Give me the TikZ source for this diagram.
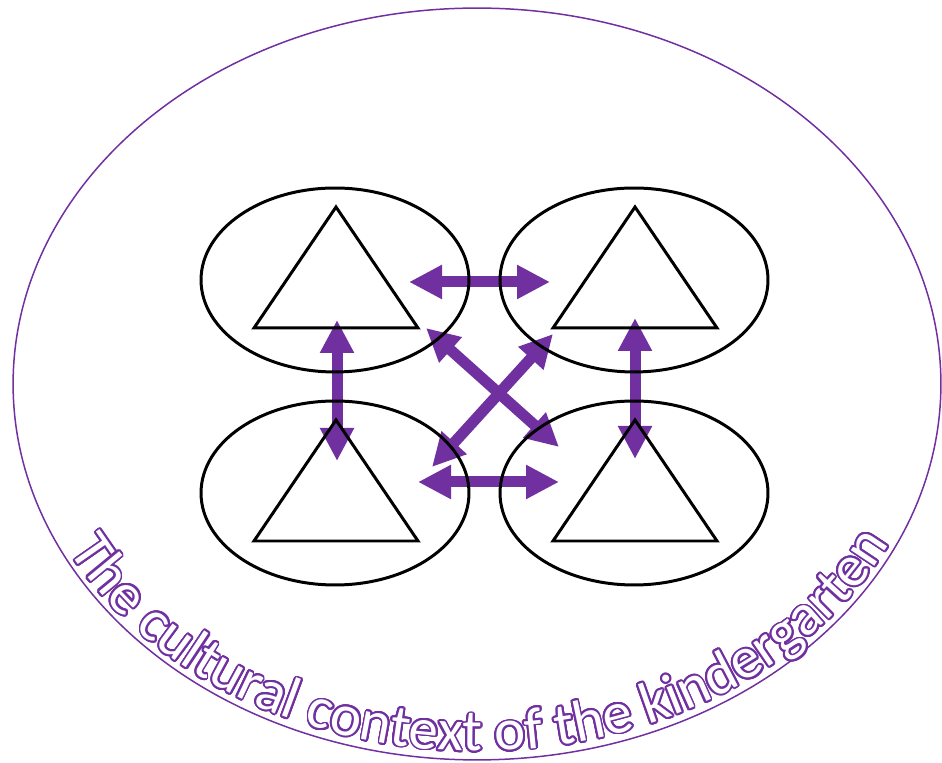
\documentclass[tikz,border=0pt]{standalone}
\usepackage{fontspec}
\newfontfamily\calibri{Carlito}
\usepackage[copies]{contour}
\contourlength{1.05pt}
\contournumber{24}
\usetikzlibrary{shapes.geometric,arrows.meta,decorations.text,backgrounds}
\definecolor{ctxpurple}{RGB}{112,48,160}
\newcommand{\outlined}[1]{\contour{ctxpurple}{#1}}

\begin{document}
\begin{tikzpicture}[x=0.02cm, y=0.02cm,
    context/.style={draw=ctxpurple, ellipse, line width=0.85pt, inner sep=0pt,
                    minimum width=18.56cm, minimum height=15.04cm},
    group/.style={draw, ellipse, line width=1.7pt, inner sep=0pt,
                  minimum width=5.36cm, minimum height=3.68cm},
    tri/.style={draw, line width=1.7pt},
    link/.style={draw=ctxpurple, line width=0.22cm,
                 {Triangle[length=0.66cm, width=0.64cm]}-{Triangle[length=0.66cm, width=0.64cm]}}]
    \useasboundingbox (0,0) rectangle (942,763);
    \node[context] (ctx) at (477,379) {};
    \node[group] (tl) at (335,483) {};
    \node[group] (tr) at (634,483) {};
    \node[group] (bl) at (335,270) {};
    \node[group] (br) at (634,270) {};
    \foreach \e in {tl,tr,bl,br}
        \draw[tri] ([shift={(1,73)}]\e.center) -- ++(-82,-121) -- ++(164,0) -- cycle;
    \begin{pgfonlayer}{background}
        \foreach \a/\ax/\ay/\b/\bx/\by in {tl/74/-2/tr/-84/-2, bl/83/11/br/-75/11,
                                        tl/2/-40/bl/2/32, tr/1/-38/br/1/34,
                                        tl/91/-48/br/-75/46, tr/-81/-54/bl/97/26}
            \draw[link] ([shift={(\ax,\ay)}]\a.center) -- ([shift={(\bx,\by)}]\b.center);
    \end{pgfonlayer}
    % title along the lower rim
    \path[decorate, decoration={text effects along path,
            text={The cultural context of the kindergarten},
            text effects/.cd, text along path, character command=\outlined,
            characters={text=white, inner sep=0pt,
                        font=\calibri\fontsize{33.5}{40}\selectfont}}]
        ([shift={(207:458 and 367)}]ctx.center) arc[start angle=207, end angle=360,
                                                    x radius=458, y radius=367];
\end{tikzpicture}
\end{document}
